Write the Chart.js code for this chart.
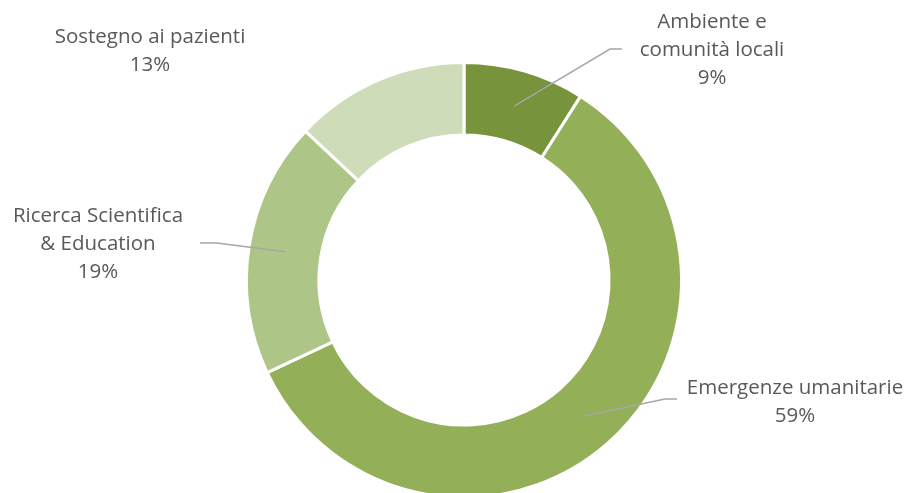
<!DOCTYPE html>
<html>
<head>
<meta charset="utf-8">
<script src="https://cdn.jsdelivr.net/npm/chart.js@4/dist/chart.umd.min.js"></script>
<style>
  html, body { margin: 0; padding: 0; background: #fff; overflow: hidden; }
  #wrap { position: relative; width: 909px; height: 560px; }
</style>
</head>
<body>
<div id="wrap"><canvas id="donutChart"></canvas></div>
<script>
// dati
var categories = ['Ambiente e comunità locali', 'Emergenze umanitarie', 'Ricerca Scientifica & Education', 'Sostegno ai pazienti'];
var values = [9, 59, 19, 13];
var sliceColors = ['#77933C', '#93B058', '#ADC688', '#CFDCB9'];

// righe delle etichette e posizione (centro testo, gomito della linea guida)
var labelLines = [
    ['Ambiente e', 'comunità locali'],
    ['Emergenze umanitarie'],
    ['Ricerca Scientifica', '& Education'],
    ['Sostegno ai pazienti']
];
var labelPos = [
    { x: 712, y: 22, elbow: [610, 49], end: [622, 49] },
    { x: 795, y: 388, elbow: [665, 399], end: [677, 399] },
    { x: 98, y: 216, elbow: [217, 243], end: [200, 243] },
    { x: 150, y: 37, elbow: null, end: null }
];

var labelPlugin = {
    id: 'excelLabels',
    afterDatasetsDraw: function (chart) {
        var ctx = chart.ctx;
        var meta = chart.getDatasetMeta(0);
        var total = values.reduce(function (a, b) { return a + b; }, 0);
        ctx.save();
        meta.data.forEach(function (arc, i) {
            var p = arc.getProps(['x', 'y', 'startAngle', 'endAngle', 'innerRadius', 'outerRadius'], true);
            var mid = (p.startAngle + p.endAngle) / 2;
            var r = (p.innerRadius + p.outerRadius) / 2;
            var ax = p.x + Math.cos(mid) * r;
            var ay = p.y + Math.sin(mid) * r;
            var pos = labelPos[i];
            if (pos.elbow) {
                ctx.strokeStyle = '#A6A6A6';
                ctx.lineWidth = 1.5;
                ctx.beginPath();
                ctx.moveTo(ax, ay);
                ctx.lineTo(pos.elbow[0], pos.elbow[1]);
                ctx.lineTo(pos.end[0], pos.end[1]);
                ctx.stroke();
            }
            var lines = labelLines[i].concat([Math.round(values[i] / total * 100) + '%']);
            ctx.fillStyle = '#595959';
            ctx.font = '20.5px "Open Sans", sans-serif';
            ctx.textAlign = 'center';
            ctx.textBaseline = 'middle';
            lines.forEach(function (t, k) {
                ctx.fillText(t, pos.x, pos.y + k * 28);
            });
        });
        ctx.restore();
    }
};

var donutChart = new Chart(document.getElementById('donutChart').getContext('2d'), {
    type: 'doughnut',
    data: {
        labels: categories,
        datasets: [{
            data: values,
            backgroundColor: sliceColors,
            borderColor: '#FFFFFF',
            borderWidth: 3
        }]
    },
    options: {
        responsive: true,
        maintainAspectRatio: false,
        animation: false,
        cutout: '66.7%',
        layout: { padding: { left: 245, right: 226, top: 61, bottom: 61 } },
        plugins: {
            legend: { display: false },
            tooltip: { enabled: false }
        }
    },
    plugins: [labelPlugin]
});
</script>
</body>
</html>
